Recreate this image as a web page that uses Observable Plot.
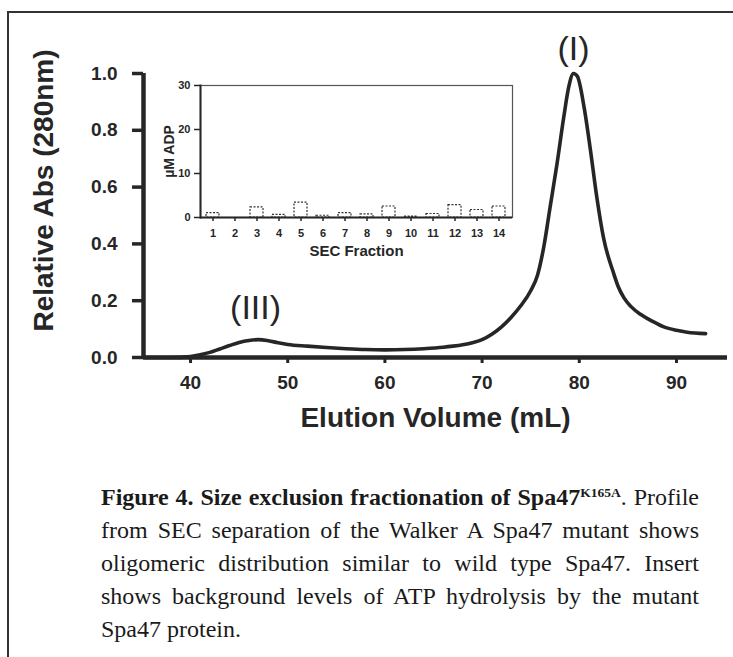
<!DOCTYPE html>
<html>
<head>
<meta charset="utf-8">
<script src="https://cdn.jsdelivr.net/npm/d3@7"></script>
<script src="https://cdn.jsdelivr.net/npm/@observablehq/plot@0.6"></script>
<style>
  html, body { margin: 0; padding: 0; background: #fff; }
  #wrap { position: relative; width: 733px; height: 657px; overflow: hidden; background: #fff; }
  #frame { position: absolute; left: 7px; top: 11px; width: 740px; height: 660px;
           border-left: 2.2px solid #333; border-top: 2.2px solid #333; box-sizing: border-box; }
  #main { position: absolute; left: 0; top: 0; }
  #inset { position: absolute; left: 140px; top: 70px; }
  #caption { position: absolute; left: 101px; top: 481px; width: 598px;
             font-family: "Liberation Serif", "Times New Roman", serif; font-size: 24px;
             line-height: 33px; color: #1a1a1a; }
  #caption div { text-align: justify; text-align-last: justify; white-space: nowrap; height: 33px; }
  #caption div.last { text-align-last: left; }
  #caption .b { font-weight: bold; }
  #caption sup { font-size: 13.5px; font-weight: bold; line-height: 0; vertical-align: 0.6em; }
</style>
</head>
<body>
<div id="wrap">
  <div id="frame"></div>
  <div id="main"></div>
  <div id="inset"></div>
  <div id="caption"></div>
</div>
<script>
// ---- Main SEC profile data ----
const volume = [35.3, 38, 40, 41, 42, 43, 44, 45, 46, 47, 48, 49, 50, 52, 54, 56, 58, 60, 62, 64, 66, 67, 68, 69, 70, 71, 72, 73, 74, 75, 75.7, 76.35, 77.0, 77.7, 78.4, 78.9, 79.4, 79.8, 80.5, 81.15, 81.8, 82.5, 83.5, 84.0, 84.6, 85.3, 86.3, 87.5, 88.7, 90.0, 91.1, 93.0];
const absorbance = [0, 0, 0.003, 0.01, 0.018, 0.03, 0.042, 0.053, 0.06, 0.063, 0.059, 0.052, 0.046, 0.04, 0.035, 0.031, 0.028, 0.027, 0.028, 0.031, 0.036, 0.040, 0.045, 0.052, 0.063, 0.082, 0.108, 0.142, 0.183, 0.235, 0.29, 0.39, 0.53, 0.68, 0.846, 0.95, 1.0, 0.99, 0.88, 0.73, 0.565, 0.42, 0.30, 0.25, 0.21, 0.18, 0.152, 0.128, 0.108, 0.096, 0.089, 0.084];
const xDomain = [35.16, 95.25];
const xTicks = [40, 50, 60, 70, 80, 90];
const yTicks = [0, 0.2, 0.4, 0.6, 0.8, 1.0];
const xTitle = "Elution Volume (mL)";
const yTitle = "Relative Abs (280nm)";
const peakLabels = ["(I)", "(III)"];
const peakVolume = [79.4, 47];
const peakAbs = [1.0, 0.063];

// ---- Inset ATPase data ----
const fractions = ["1","2","3","4","5","6","7","8","9","10","11","12","13","14"];
const adp = [1.0, 0, 2.3, 0.6, 3.4, 0.4, 1.0, 0.7, 2.5, 0.2, 0.8, 2.8, 1.7, 2.5];
const adpTicks = [0, 10, 20, 30];
const insetXTitle = "SEC Fraction";
const insetYTitle = "\u00B5M ADP";

// ---- Caption (one entry per printed line) ----
const captionBold = "Figure 4. Size exclusion fractionation of Spa47";
const captionSup = "K165A";
const captionFirstRest = ". Profile";
const captionLines = [
  "from SEC separation of the Walker A Spa47 mutant shows",
  "oligomeric distribution similar to wild type Spa47. Insert",
  "shows background levels of ATP hydrolysis by the mutant",
  "Spa47 protein."
];

const ink = "#262626";
const sans = "'Liberation Sans', Arial, sans-serif";

const profile = volume.map((v, i) => ({v, a: absorbance[i]}));
const peaks = peakLabels.map((t, i) => ({t, v: peakVolume[i], a: peakAbs[i]}));

const main = Plot.plot({
  width: 733, height: 440,
  marginLeft: 143, marginRight: 6, marginTop: 73, marginBottom: 83,
  x: {domain: xDomain},
  y: {domain: [0, 1]},
  style: {background: "none", fontFamily: sans, color: ink, overflow: "visible"},
  marks: [
    Plot.axisY({ticks: yTicks, tickSize: 11, tickPadding: 15, tickFormat: d => d.toFixed(1),
      fontSize: 19, fontWeight: "bold", strokeWidth: 3.5, label: null}),
    Plot.axisX({ticks: xTicks, tickSize: 6, tickPadding: 12, tickFormat: d => String(d),
      fontSize: 19, fontWeight: "bold", strokeWidth: 3, label: null}),
    Plot.ruleX([xDomain[0]], {y1: 0, y2: 1, stroke: ink, strokeWidth: 4.5}),
    Plot.ruleY([0], {stroke: ink, strokeWidth: 4.5}),
    Plot.line(profile, {x: "v", y: "a", stroke: ink, strokeWidth: 3.6, curve: "monotone-x"}),
    Plot.text(peaks.slice(0, 1), {x: "v", y: "a", text: "t", dy: -24, fontSize: 34, fill: ink, lineAnchor: "middle"}),
    Plot.text(peaks.slice(1, 2), {x: "v", y: "a", text: "t", dy: -31, dx: -3, fontSize: 34, fill: ink, lineAnchor: "middle"}),
    Plot.text([xTitle], {frameAnchor: "bottom", dy: 61, fontSize: 28, fontWeight: "bold", fill: ink, lineAnchor: "middle", textAnchor: "middle"}),
    Plot.text([yTitle], {frameAnchor: "left", rotate: -90, dx: -99, dy: -25, fontSize: 28, fontWeight: "bold", fill: ink, lineAnchor: "middle", textAnchor: "middle"})
  ]
});
document.getElementById("main").appendChild(main);

const bars = fractions.map((f, i) => ({f, y: adp[i]}));
const inset = Plot.plot({
  width: 390, height: 200,
  marginLeft: 60, marginRight: 18, marginTop: 15, marginBottom: 53,
  x: {type: "band", domain: fractions, paddingInner: 0.4, paddingOuter: 0.2},
  y: {domain: [0, 30]},
  style: {background: "none", fontFamily: sans, color: ink, overflow: "visible"},
  marks: [
    Plot.frame({stroke: "#555", strokeWidth: 1.2}),
    Plot.barY(bars, {x: "f", y: "y", fill: "white", stroke: "#333", strokeWidth: 1.2, strokeDasharray: "2,1.5"}),
    Plot.axisY({ticks: adpTicks, tickSize: 6, tickPadding: 4, fontSize: 11, fontWeight: "bold", strokeWidth: 1.5, label: null}),
    Plot.axisX({tickSize: 4, tickPadding: 8, fontSize: 11, fontWeight: "bold", strokeWidth: 1.5, label: null}),
    Plot.frame({anchor: "left", stroke: ink, strokeWidth: 2}),
    Plot.ruleY([0], {stroke: ink, strokeWidth: 2}),
    Plot.text([insetXTitle], {frameAnchor: "bottom", dy: 34, fontSize: 15, fontWeight: "bold", fill: ink, lineAnchor: "middle", textAnchor: "middle"}),
    Plot.text([insetYTitle], {frameAnchor: "left", rotate: -90, dx: -31, dy: 0, fontSize: 14, fontWeight: "bold", fill: ink, lineAnchor: "middle", textAnchor: "middle"})
  ]
});
document.getElementById("inset").appendChild(inset);

const cap = document.getElementById("caption");
const first = document.createElement("div");
const b = document.createElement("span");
b.className = "b";
b.textContent = captionBold;
const sup = document.createElement("sup");
sup.textContent = captionSup;
const rest = document.createElement("span");
rest.textContent = captionFirstRest;
first.appendChild(b);
first.appendChild(sup);
first.appendChild(rest);
cap.appendChild(first);
captionLines.forEach((t, i) => {
  const d = document.createElement("div");
  if (i === captionLines.length - 1) d.className = "last";
  d.textContent = t;
  cap.appendChild(d);
});
</script>
</body>
</html>
